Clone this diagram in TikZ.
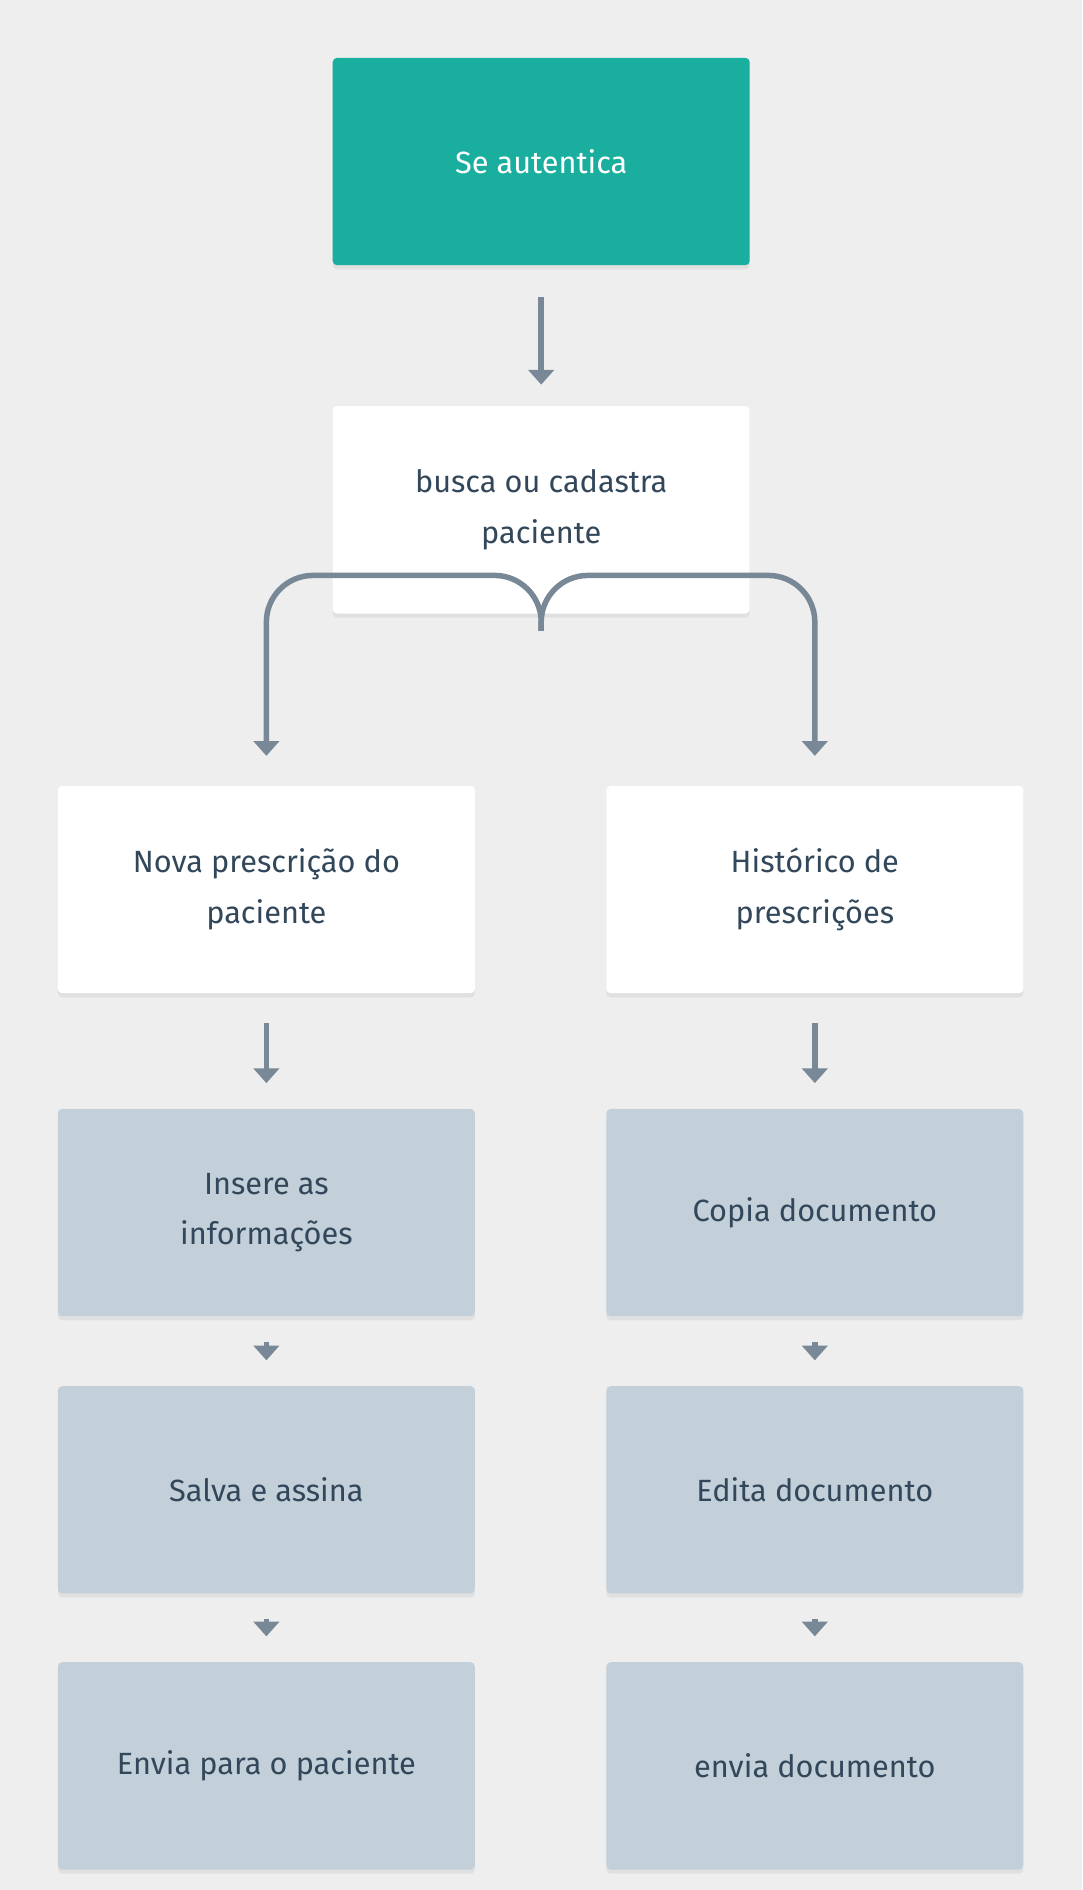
\documentclass[tikz,border=0pt]{standalone}
\usepackage{fontspec}
\setmainfont{Fira Sans}
\usetikzlibrary{arrows.meta,positioning,shadows}
\definecolor{bg}{HTML}{EEEEEE}
\definecolor{teal}{HTML}{1AAE9F}
\definecolor{blu}{HTML}{C3D0DA}
\definecolor{txt}{HTML}{33475B}
\definecolor{arr}{HTML}{788896}
\begin{document}
\begin{tikzpicture}[x=0.02cm,y=-0.02cm,
 box/.style={draw=none,minimum width=6.92cm,minimum height=3.44cm,align=center,text=txt,font=\fontsize{14.5}{24}\selectfont,rounded corners=2pt,drop shadow={opacity=0.12,shadow xshift=0pt,shadow yshift=-2pt}},
 ar/.style={draw=arr,line width=2.6pt,-{Triangle[width=12pt,length=7pt]}}]
\fill[bg] (0,0) rectangle (898,1568);
\node[box,fill=teal,text=white] (a) at (449,134) {Se autentica};
\node[box,fill=white] (b) at (449,423) {busca ou cadastra\\paciente};
\node[box,fill=white] (n) at (221,738) {Nova prescrição do\\paciente};
\node[box,fill=white] (h) at (676,738) {Histórico de\\prescrições};
\node[box,fill=blu] (i) at (221,1006) {Insere as\\informações};
\node[box,fill=blu] (c) at (676,1006) {Copia documento};
\node[box,fill=blu] (s) at (221,1236) {Salva e assina};
\node[box,fill=blu] (e) at (676,1236) {Edita documento};
\node[box,fill=blu] (p) at (221,1465) {Envia para o paciente};
\node[box,fill=blu] (d) at (676,1465) {envia documento};
\draw[ar] ([yshift=-15pt]a.south) -- ([yshift=10pt]b.north);
\draw[ar,rounded corners=22] ([yshift=-8pt]b.south) -- ++(0,-46) -| ([yshift=14pt]n.north);
\draw[ar,rounded corners=22] ([yshift=-8pt]b.south) -- ++(0,-46) -| ([yshift=14pt]h.north);
\draw[ar] ([yshift=-14pt]n.south) -- ([yshift=12pt]i.north);
\draw[ar] ([yshift=-14pt]h.south) -- ([yshift=12pt]c.north);
\draw[ar] ([yshift=-12pt]i.south) -- ([yshift=12pt]s.north);
\draw[ar] ([yshift=-12pt]c.south) -- ([yshift=12pt]e.north);
\draw[ar] ([yshift=-12pt]s.south) -- ([yshift=12pt]p.north);
\draw[ar] ([yshift=-12pt]e.south) -- ([yshift=12pt]d.north);
\end{tikzpicture}
\end{document}
